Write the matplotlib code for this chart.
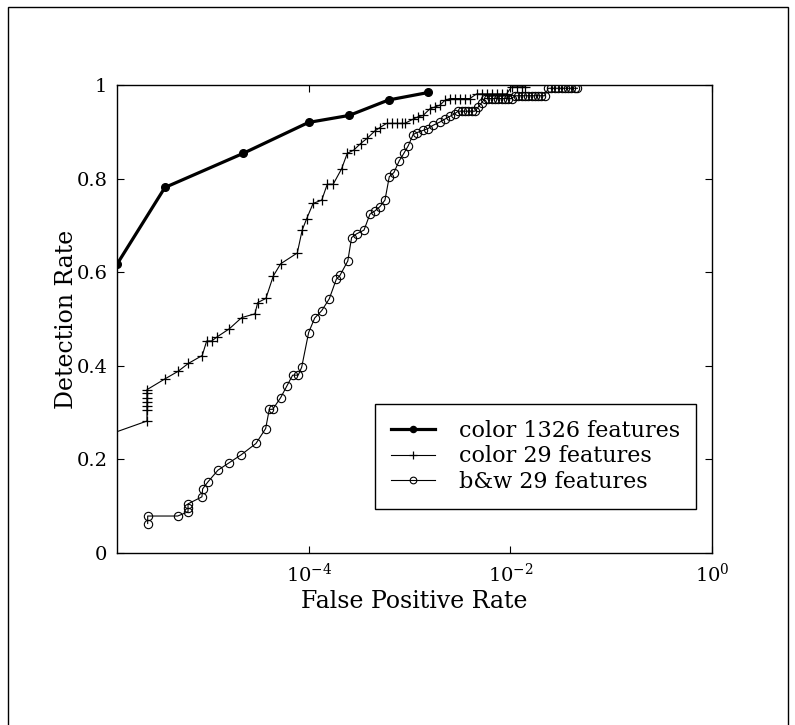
import numpy as np
import matplotlib
matplotlib.use("Agg")
import matplotlib.pyplot as plt
from matplotlib.patches import Rectangle

plt.rcParams['font.family'] = ['DejaVu Serif']
plt.rcParams['mathtext.fontset'] = 'dejavuserif'

# ---- data ----
fpr_1326 = [1.245e-6, 3.72e-6, 2.23e-5, 9.9e-5, 2.51e-4, 6.17e-4, 1.53e-3]
det_1326 = [0.617, 0.781, 0.854, 0.920, 0.935, 0.968, 0.984]

fpr_c29 = [1.0e-6, 2.47e-6, 2.47e-6, 2.47e-6, 2.47e-6, 2.47e-6, 2.47e-6, 2.47e-6,
           3.72e-6, 5.01e-6, 6.35e-6, 8.73e-6, 9.66e-6, 1.084e-5, 1.23e-5, 1.62e-5,
           2.15e-5, 2.91e-5, 3.10e-5, 3.74e-5, 4.43e-5, 5.24e-5, 7.66e-5, 8.57e-5,
           9.48e-5, 1.10e-4, 1.34e-4, 1.52e-4, 1.74e-4, 2.11e-4, 2.40e-4, 2.79e-4,
           3.26e-4, 3.78e-4, 4.52e-4, 5.06e-4, 5.90e-4, 6.61e-4, 7.41e-4, 8.32e-4,
           8.95e-4, 1.08e-3, 1.21e-3, 1.36e-3, 1.585e-3, 1.778e-3, 1.995e-3, 2.23e-3,
           2.51e-3, 2.81e-3, 3.15e-3, 3.53e-3, 3.95e-3, 4.61e-3, 5.16e-3, 5.79e-3,
           6.50e-3, 7.28e-3, 8.17e-3, 9.14e-3, 1.026e-2, 1.148e-2, 1.288e-2, 1.380e-2]
det_c29 = [0.252, 0.282, 0.306, 0.315, 0.323, 0.332, 0.341, 0.349,
           0.372, 0.388, 0.405, 0.422, 0.453, 0.453, 0.462, 0.479,
           0.503, 0.511, 0.535, 0.544, 0.592, 0.618, 0.641, 0.690,
           0.714, 0.747, 0.754, 0.788, 0.788, 0.821, 0.854, 0.861,
           0.875, 0.886, 0.902, 0.909, 0.918, 0.918, 0.918, 0.918,
           0.918, 0.927, 0.932, 0.935, 0.949, 0.953, 0.957, 0.967,
           0.971, 0.971, 0.971, 0.971, 0.971, 0.981, 0.981, 0.981,
           0.981, 0.981, 0.981, 0.981, 0.996, 0.996, 0.996, 0.996]

fpr_bw29 = [2.51e-6, 2.51e-6, 4.98e-6, 6.31e-6, 6.31e-6, 6.31e-6, 8.67e-6, 8.81e-6,
            9.95e-6, 1.25e-5, 1.62e-5, 2.13e-5, 2.98e-5, 3.72e-5, 4.04e-5, 4.37e-5,
            5.24e-5, 6.01e-5, 6.89e-5, 7.83e-5, 8.47e-5, 9.93e-5, 1.14e-4, 1.34e-4,
            1.59e-4, 1.87e-4, 2.03e-4, 2.43e-4, 2.65e-4, 2.97e-4, 3.52e-4, 4.03e-4,
            4.52e-4, 5.06e-4, 5.68e-4, 6.27e-4, 6.97e-4, 7.87e-4, 8.75e-4, 9.66e-4,
            1.08e-3, 1.17e-3, 1.36e-3, 1.52e-3, 1.71e-3, 2.00e-3, 2.23e-3, 2.51e-3,
            2.81e-3, 3.03e-3, 3.27e-3, 3.53e-3, 3.81e-3, 4.11e-3, 4.44e-3, 4.79e-3,
            5.16e-3, 5.57e-3, 6.01e-3, 6.50e-3, 7.00e-3, 7.55e-3, 8.17e-3, 8.79e-3,
            9.51e-3, 1.026e-2, 1.107e-2, 1.195e-2, 1.288e-2, 1.390e-2, 1.50e-2, 1.62e-2,
            1.75e-2, 1.88e-2, 2.03e-2, 2.19e-2, 2.37e-2, 2.55e-2, 2.75e-2, 2.97e-2,
            3.21e-2, 3.46e-2, 3.73e-2, 4.03e-2, 4.35e-2, 4.62e-2]
det_bw29 = [0.063, 0.079, 0.079, 0.088, 0.097, 0.105, 0.120, 0.137,
            0.152, 0.177, 0.193, 0.210, 0.234, 0.266, 0.307, 0.307,
            0.332, 0.356, 0.380, 0.380, 0.397, 0.471, 0.502, 0.518,
            0.543, 0.585, 0.593, 0.624, 0.674, 0.682, 0.690, 0.724,
            0.731, 0.740, 0.754, 0.804, 0.813, 0.838, 0.854, 0.870,
            0.894, 0.898, 0.903, 0.907, 0.914, 0.921, 0.927, 0.933,
            0.939, 0.944, 0.944, 0.944, 0.944, 0.944, 0.944, 0.953,
            0.962, 0.971, 0.971, 0.971, 0.971, 0.971, 0.971, 0.971,
            0.971, 0.971, 0.977, 0.977, 0.977, 0.977, 0.977, 0.977,
            0.977, 0.977, 0.977, 0.977, 0.993, 0.993, 0.993, 0.993,
            0.993, 0.993, 0.993, 0.993, 0.993, 0.993]

labels = ['color 1326 features', 'color 29 features', 'b&w 29 features']
x_limits = (1.245e-6, 1.0)
x_ticks = [1e-4, 1e-2, 1e0]
y_ticks = [0, 0.2, 0.4, 0.6, 0.8, 1]
y_tick_labels = ['0', '0.2', '0.4', '0.6', '0.8', '1']

# ---- figure ----
fig = plt.figure(figsize=(7.95, 7.25), dpi=100)
ax = fig.add_axes([117/795, 1 - 553/725, 595/795, 468/725])

ax.plot(fpr_1326, det_1326, color='black', lw=2.3, marker='o', ms=5.5,
        mfc='black', mec='black', label=labels[0])
ax.plot(fpr_c29, det_c29, color='black', lw=0.8, marker='+', ms=7,
        mew=0.9, label=labels[1])
ax.plot(fpr_bw29, det_bw29, color='black', lw=0.8, marker='o', ms=6,
        mfc='none', mec='black', mew=0.8, label=labels[2])

ax.set_xscale('log')
ax.set_xlim(*x_limits)
ax.set_ylim(0, 1)
ax.set_xticks(x_ticks)
ax.xaxis.set_minor_locator(matplotlib.ticker.NullLocator())
ax.set_yticks(y_ticks)
ax.set_yticklabels(y_tick_labels)

ax.tick_params(direction='in', length=5, width=0.8, top=True, right=True,
               labelsize=14, pad=7)
for s in ax.spines.values():
    s.set_linewidth(1.0)

ax.set_xlabel('False Positive Rate', fontsize=17, labelpad=3)
ax.set_ylabel('Detection Rate', fontsize=17, labelpad=-1)

leg = ax.legend(loc='upper left', bbox_to_anchor=(258/595, (553-404)/468),
                fontsize=16, frameon=True, fancybox=False, edgecolor='black',
                framealpha=1, borderaxespad=0, borderpad=0.7, handlelength=2.0,
                handletextpad=1.1, labelspacing=0.17, markerscale=0.8)
leg.get_frame().set_linewidth(1.0)

# outer frame of the figure
fig.patches.append(Rectangle((8/795, -0.05), 780/795, 1.05 - 7/725,
                             transform=fig.transFigure, fill=False,
                             edgecolor='black', lw=1.0))

fig.savefig('out.png', dpi=100)
